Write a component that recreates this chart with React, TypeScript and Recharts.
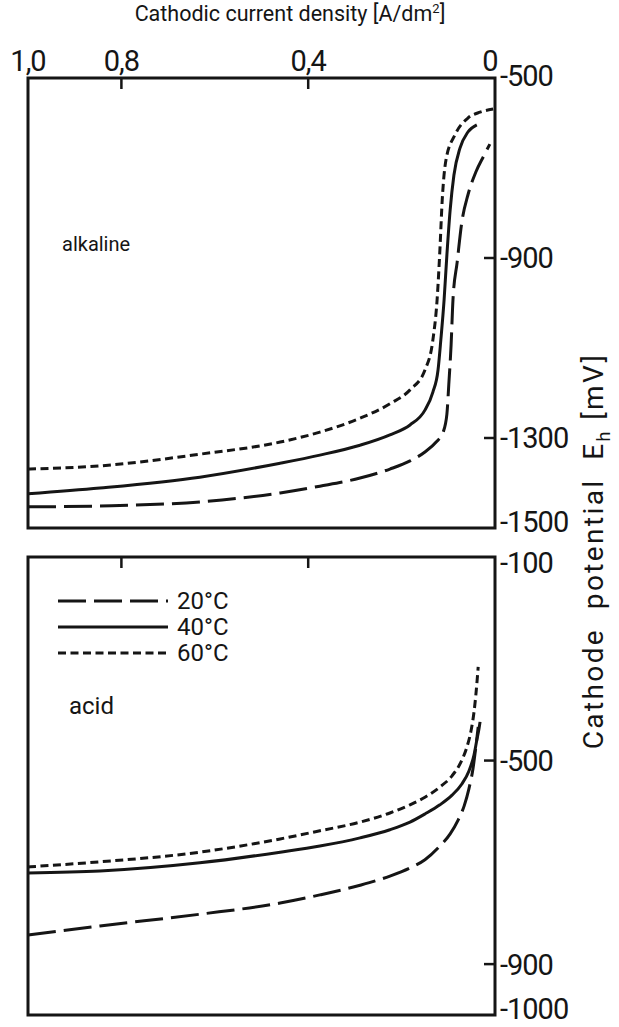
import React from 'react';
import { LineChart, Line, XAxis, YAxis, ReferenceArea, Legend } from 'recharts';

const INK = '#151515';
const FONT = 'Roboto, "DejaVu Sans", sans-serif';

// cathodic current density, A/dm² (axis runs from 1,0 on the left to 0 on the right)
const densityTicks = [1.0, 0.8, 0.4, 0];

// temperatures of the three curves in each panel
const temperatures = ['20°C', '40°C', '60°C'];

// alkaline bath, cathode potential Eh in mV
const alkalineTicks = [-500, -900, -1300, -1500];
const alk20Density = [1.0, 0.846, 0.632, 0.46, 0.375, 0.289, 0.225, 0.182, 0.15, 0.126, 0.111, 0.103, 0.099, 0.094, 0.09, 0.081, 0.071, 0.058, 0.041, 0.024, 0.011];
const alk20Potential = [-1453, -1451, -1442, -1422, -1407, -1389, -1369, -1351, -1331, -1309, -1287, -1247, -1182, -1093, -993, -909, -820, -760, -709, -673, -647];
const alk40Density = [1.0, 0.846, 0.632, 0.46, 0.375, 0.289, 0.225, 0.182, 0.15, 0.133, 0.122, 0.116, 0.109, 0.103, 0.096, 0.088, 0.075, 0.058, 0.039];
const alk40Potential = [-1424, -1411, -1387, -1356, -1338, -1316, -1293, -1271, -1238, -1198, -1149, -1082, -993, -893, -793, -716, -656, -620, -604];
const alk60Density = [1.0, 0.846, 0.632, 0.46, 0.375, 0.289, 0.225, 0.182, 0.15, 0.133, 0.124, 0.118, 0.113, 0.105, 0.086, 0.058, 0.032, 0.004];
const alk60Potential = [-1369, -1362, -1336, -1309, -1287, -1256, -1224, -1193, -1149, -1082, -993, -882, -771, -682, -627, -589, -576, -569];

// acid bath
const acidTicks = [-100, -500, -900, -1000];
const acid20Density = [1.0, 0.846, 0.632, 0.46, 0.375, 0.289, 0.225, 0.182, 0.15, 0.118, 0.096, 0.079, 0.066, 0.056, 0.047, 0.041, 0.036];
const acid20Potential = [-843, -825, -802, -780, -764, -745, -727, -711, -695, -668, -644, -617, -589, -556, -515, -473, -434];
const acid40Density = [1.0, 0.846, 0.632, 0.46, 0.375, 0.289, 0.225, 0.182, 0.15, 0.118, 0.092, 0.071, 0.056, 0.045, 0.039, 0.034, 0.032];
const acid40Potential = [-721, -717, -701, -680, -668, -652, -636, -621, -605, -587, -568, -546, -521, -489, -460, -436, -424];
const acid60Density = [1.0, 0.846, 0.632, 0.46, 0.375, 0.289, 0.225, 0.182, 0.15, 0.118, 0.092, 0.073, 0.06, 0.051, 0.045, 0.041, 0.036];
const acid60Potential = [-709, -699, -680, -654, -638, -621, -603, -587, -572, -552, -530, -503, -473, -440, -405, -371, -316];

// line style per temperature: long dash, solid, short dash
const DASHES = ['28 8', undefined, '8 4.5'];

const toRows = (density: number[], potential: number[]) =>
  density.map((d, i) => ({ density: d, potential: potential[i] }));

const alkalineSeries = [
  toRows(alk20Density, alk20Potential),
  toRows(alk40Density, alk40Potential),
  toRows(alk60Density, alk60Potential),
];
const acidSeries = [
  toRows(acid20Density, acid20Potential),
  toRows(acid40Density, acid40Potential),
  toRows(acid60Density, acid60Potential),
];

const fmtDensity = (v: number) => (v === 0 ? '0' : v.toFixed(1).replace('.', ','));

// inward tick mark on the top border, optional label above it
const DensityTick = (props: any) => {
  const { x, y, payload, showLabel } = props;
  const v = payload.value;
  const corner = v === 0 || v === 1;
  return (
    <g>
      {!corner && <line x1={x} x2={x} y1={y} y2={y + 11} stroke={INK} strokeWidth={2.5} />}
      {showLabel && (
        <text x={v === 0 ? x - 5 : x} y={y - 7} textAnchor="middle" fontSize={29} fontFamily={FONT} fill={INK} letterSpacing={-1}>
          {fmtDensity(v)}
        </text>
      )}
    </g>
  );
};

// inward tick mark on the right border with the value outside;
// the corner labels are nudged away from the panel edge
const PotentialTick = (props: any) => {
  const { x, y, payload, domain, topShift, bottomShift } = props;
  const v = payload.value;
  const atBottom = v === domain[0];
  const atTop = v === domain[1];
  const shift = atBottom ? bottomShift : atTop ? topShift : 0;
  return (
    <g>
      {!atBottom && !atTop && <line x1={x - 11} x2={x} y1={y} y2={y} stroke={INK} strokeWidth={2.5} />}
      <text x={x + 5} y={y + shift} dy="0.36em" textAnchor="start" fontSize={29} fontFamily={FONT} fill={INK} letterSpacing={-1}>
        {v}
      </text>
    </g>
  );
};

const TemperatureLegend = () => (
  <div style={{ fontFamily: FONT, color: INK }}>
    {temperatures.map((t, i) => (
      <div key={t} style={{ display: 'flex', alignItems: 'center', height: 26 }}>
        <svg width={112} height={26}>
          <line x1={0} x2={110} y1={13} y2={13} stroke={INK} strokeWidth={3} strokeDasharray={DASHES[i]} />
        </svg>
        <span style={{ fontSize: 24, marginLeft: 7, lineHeight: '26px' }}>{t}</span>
      </div>
    ))}
  </div>
);

interface PanelProps {
  series: { density: number; potential: number }[][];
  domain: [number, number];
  ticks: number[];
  width: number;
  height: number;
  margin: { top: number; right: number; bottom: number; left: number };
  axisHeight: number;
  topShift: number;
  bottomShift: number;
  showDensityLabels?: boolean;
  legend?: boolean;
}

function Panel({ series, domain, ticks, width, height, margin, axisHeight, topShift, bottomShift, showDensityLabels, legend }: PanelProps) {
  return (
    <LineChart width={width} height={height} margin={margin}>
      <XAxis
        type="number"
        dataKey="density"
        orientation="top"
        domain={[0, 1]}
        reversed
        ticks={densityTicks}
        interval={0}
        height={axisHeight}
        axisLine={false}
        tickLine={false}
        tickSize={0}
        tickMargin={0}
        tick={(p: any) => <DensityTick {...p} showLabel={showDensityLabels} />}
      />
      <YAxis
        type="number"
        orientation="right"
        domain={domain}
        ticks={ticks}
        interval={0}
        width={100}
        axisLine={false}
        tickLine={false}
        tickSize={0}
        tickMargin={0}
        tick={(p: any) => <PotentialTick {...p} domain={domain} topShift={topShift} bottomShift={bottomShift} />}
      />
      <ReferenceArea x1={0} x2={1} y1={domain[0]} y2={domain[1]} fill="none" stroke={INK} strokeWidth={3} />
      {series.map((rows, i) => (
        <Line
          key={temperatures[i]}
          name={temperatures[i]}
          data={rows}
          dataKey="potential"
          type="monotone"
          stroke={INK}
          strokeWidth={3}
          strokeDasharray={DASHES[i]}
          dot={false}
          activeDot={false}
          isAnimationActive={false}
        />
      ))}
      {legend && (
        <Legend
          layout="horizontal"
          verticalAlign="middle"
          align="center"
          content={() => <TemperatureLegend />}
          wrapperStyle={{ position: 'absolute', left: 58, top: 48, width: 'auto' }}
        />
      )}
    </LineChart>
  );
}

export default function App() {
  return (
    <div style={{ position: 'absolute', left: 0, top: 0, width: 619, height: 1027, background: '#fff', fontFamily: FONT, color: INK }}>
      <div style={{ position: 'absolute', left: 290, top: 1, transform: 'translateX(-50%)', fontSize: 21.5, whiteSpace: 'nowrap' }}>
        Cathodic current density [A/dm<sup style={{ fontSize: 13 }}>2</sup>]
      </div>

      <div style={{ position: 'absolute', left: 0, top: 0 }}>
        <Panel
          series={alkalineSeries}
          domain={[-1500, -500]}
          ticks={alkalineTicks}
          width={619}
          height={545}
          margin={{ top: 48, right: 24, bottom: 17, left: 28 }}
          axisHeight={30}
          topShift={-2}
          bottomShift={-6}
          showDensityLabels
        />
      </div>

      <div style={{ position: 'absolute', left: 0, top: 540 }}>
        <Panel
          series={acidSeries}
          domain={[-1000, -100]}
          ticks={acidTicks}
          width={619}
          height={487}
          margin={{ top: 16, right: 24, bottom: 12, left: 28 }}
          axisHeight={1}
          topShift={6}
          bottomShift={-6}
          legend
        />
      </div>

      <div style={{ position: 'absolute', left: 62, top: 232, fontSize: 20 }}>alkaline</div>
      <div style={{ position: 'absolute', left: 69, top: 692, fontSize: 24 }}>acid</div>

      <div
        style={{
          position: 'absolute',
          left: 599,
          top: 551,
          transform: 'translate(-50%, -50%) rotate(-90deg)',
          fontSize: 28,
          lineHeight: '30px',
          whiteSpace: 'nowrap',
          letterSpacing: 2.4,
        }}
      >
        Cathode&nbsp; potential&nbsp; E<sub style={{ fontSize: 18 }}>h</sub> [mV]
      </div>
    </div>
  );
}
